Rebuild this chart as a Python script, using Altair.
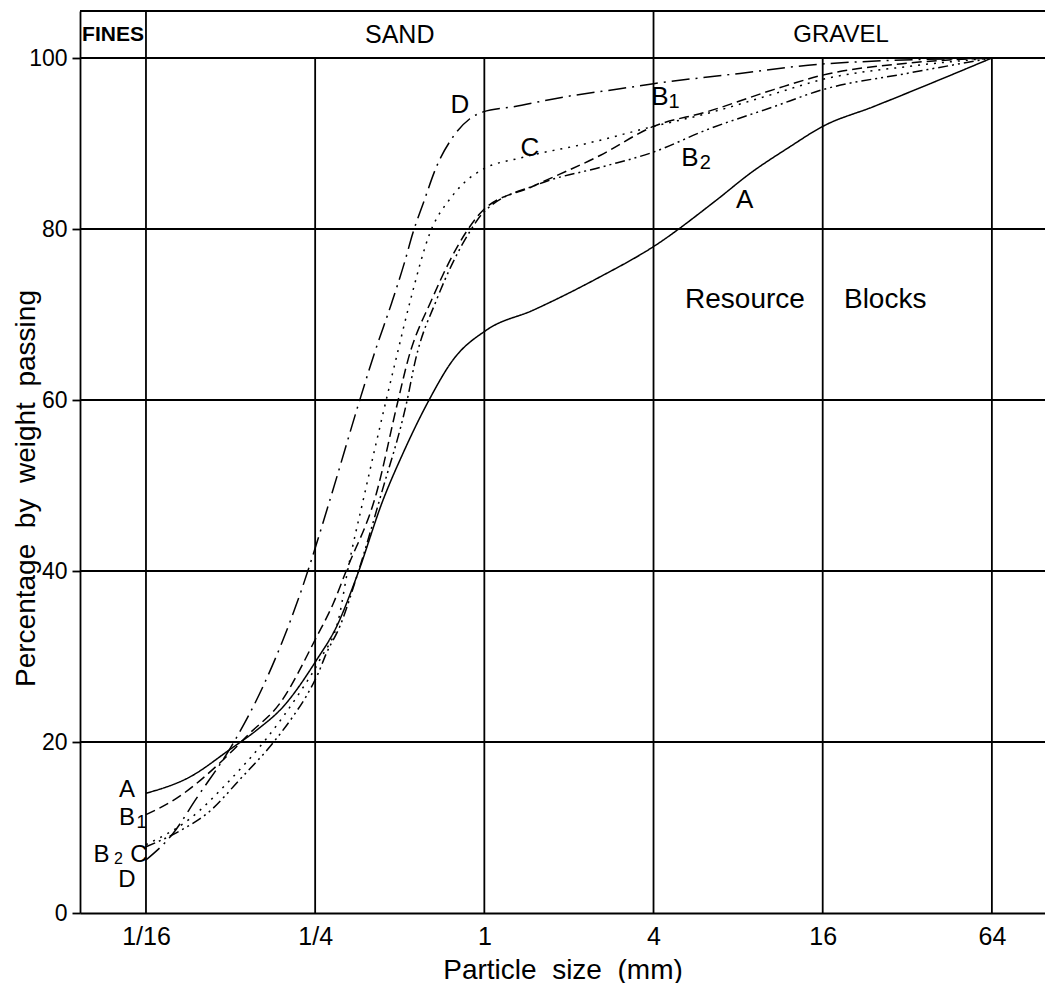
import altair as alt
import pandas as pd

# ---------------- data ----------------
# particle size (mm) and percentage by weight passing
A_size = [0.0625, 0.0894, 0.124, 0.155, 0.192, 0.253, 0.298, 0.351, 0.436, 0.514, 0.631, 0.774,
          1.02, 1.49, 2.58, 3.98, 6.71, 8.82, 12.2, 16.0, 24.2, 38.6, 64]
A_pass = [14.0, 15.9, 19.1, 21.4, 24.1, 29.6, 33.5, 39.3, 48.3, 53.8, 59.8, 64.7,
          68.2, 70.5, 74.4, 77.9, 83.4, 86.5, 89.6, 92.0, 94.3, 97.0, 100]

B1_size = [0.0625, 0.0802, 0.1175, 0.146, 0.187, 0.253, 0.290, 0.323, 0.413, 0.492, 0.535, 0.649,
           0.864, 0.990, 1.49, 2.58, 4.0, 6.18, 10.7, 16.0, 31.9, 64]
B1_pass = [11.5, 13.4, 17.9, 21.0, 24.5, 32.3, 36.2, 40.1, 49.1, 59.8, 64.7, 71.7,
           79.7, 82.2, 85.0, 88.6, 92.0, 93.7, 96.3, 98.0, 99.4, 100]

B2_size = [0.0625, 0.0824, 0.1054, 0.1347, 0.177, 0.2086, 0.2328, 0.256, 0.2743, 0.3059, 0.352,
           0.4305, 0.5298, 0.5689, 0.6758, 0.8879, 0.990, 1.576, 2.648, 4.0, 6.18, 10.7, 16.0,
           31.9, 64]
B2_pass = [7.75, 9.6, 11.9, 15.6, 19.9, 23.0, 25.4, 28.0, 30.4, 33.5, 39.4,
           49.1, 59.8, 64.7, 71.7, 79.7, 81.9, 85.3, 87.3, 89.0, 91.6, 94.3, 96.3,
           98.2, 100]

C_size = [0.0625, 0.0894, 0.124, 0.1668, 0.2204, 0.2596, 0.3059, 0.3239, 0.3754, 0.446, 0.4841,
          0.546, 0.6397, 0.758, 0.8404, 0.990, 1.338, 2.311, 4.0, 6.18, 10.7, 16.0, 31.9, 64]
C_pass = [8.0, 11.0, 15.5, 20.3, 25.8, 29.6, 35.0, 39.5, 49.1, 59.8, 64.7,
          71.7, 79.5, 83.6, 85.3, 87.0, 88.3, 90.0, 92.0, 93.5, 95.8, 97.5, 99.0, 100]

D_size = [0.0625, 0.078, 0.0945, 0.1275, 0.1631, 0.1897, 0.2204, 0.2425, 0.2857, 0.3603, 0.4075,
          0.4673, 0.5211, 0.5564, 0.609, 0.6758, 0.7744, 0.8879, 0.990, 1.266, 1.962, 3.037, 4.0,
          8.12, 16.0, 64]
D_pass = [6.2, 9.3, 13.4, 19.8, 26.5, 31.5, 37.2, 41.3, 48.9, 60.0, 65.6,
          71.3, 76.2, 79.5, 83.2, 87.3, 90.8, 92.9, 93.7, 94.3, 95.5, 96.4, 97.0,
          98.2, 99.3, 100]

curve_names = ["A", "B1", "B2", "C", "D"]
curve_dash = [[1, 0], [10, 5], [10, 4, 2, 4, 2, 4], [2, 6], [18, 6, 2, 6]]

x_ticks = [0.0625, 0.25, 1, 4, 16, 64]
x_tick_labels = ["1/16", "1/4", "1", "4", "16", "64"]
y_ticks = [0, 20, 40, 60, 80, 100]
h_grid = [20, 40, 60, 80, 100]
header_dividers = [0.0625, 4]

X_MIN, X_MAX = 0.0364, 98.9
Y_MAX = 105.5

header_text = ["FINES", "SAND", "GRAVEL"]
header_x = [0.0477, 0.5, 18.6]
header_y = [102.75, 102.75, 102.75]
header_size = [21, 25, 24]
header_weight = ["bold", "normal", "normal"]

# curve labels
lab_text = ["D", "C", "B", "1", "B", "2", "A",
            "A", "B", "1", "B", "2", "C", "D",
            "Resource", "Blocks"]
lab_x = [0.818, 1.452, 4.215, 4.73, 5.394, 6.12, 8.45,
         0.0535, 0.0535, 0.0603, 0.0434, 0.0499, 0.0590, 0.0535,
         8.46, 26.7]
lab_y = [94.5, 89.5, 95.4, 94.8, 88.3, 87.7, 83.4,
         14.4, 11.1, 10.5, 6.8, 6.3, 6.8, 3.9,
         71.7, 71.7]
lab_size = [26, 26, 26, 20, 26, 20, 26,
            24, 24, 18, 24, 16, 24, 24,
            28, 28]

y_title = "Percentage\u00a0\u00a0by\u00a0\u00a0weight\u00a0\u00a0passing"
x_title = "Particle\u00a0\u00a0size\u00a0\u00a0(mm)"

# ---------------- tables ----------------
rows = []
for name, xs, ys in zip(curve_names, [A_size, B1_size, B2_size, C_size, D_size],
                        [A_pass, B1_pass, B2_pass, C_pass, D_pass]):
    for i, (xv, yv) in enumerate(zip(xs, ys)):
        rows.append({"curve": name, "size": xv, "pass": yv, "order": i})
curves = pd.DataFrame(rows)

vlines = pd.DataFrame({"x": x_ticks, "y0": [0] * len(x_ticks), "y1": [100] * len(x_ticks)})
dividers = pd.DataFrame({"x": header_dividers, "y0": [100] * 2, "y1": [Y_MAX] * 2})
hlines = pd.DataFrame({"y": h_grid + [Y_MAX]})
headers = pd.DataFrame({"t": header_text, "x": header_x, "y": header_y, "s": header_size,
                        "w": header_weight})
labels = pd.DataFrame({"t": lab_text, "x": lab_x, "y": lab_y, "s": lab_size})

FONT = "Liberation Sans"
LW = 1.8

x_scale = alt.Scale(type="log", domain=[X_MIN, X_MAX], nice=False)
y_scale = alt.Scale(domain=[0, Y_MAX], nice=False, zero=False)

label_expr = " : ".join(
    f"datum.value == {v} ? '{t}'" for v, t in zip(x_ticks, x_tick_labels)
) + " : ''"

x_axis = alt.Axis(values=x_ticks, labelExpr=label_expr, grid=False, ticks=False,
                  domain=True, domainColor="black", domainWidth=LW,
                  labelFont=FONT, labelFontSize=25, labelColor="black", labelPadding=11,
                  title=x_title, titleFont=FONT, titleFontSize=28,
                  titleFontWeight="normal", titleColor="black",
                  titleBaseline="middle", titleY=57)
y_axis = alt.Axis(values=y_ticks, grid=False, ticks=True, tickSize=8, tickColor="black",
                  tickWidth=LW, domain=True, domainColor="black", domainWidth=LW,
                  labelFont=FONT, labelFontSize=23, labelColor="black", labelPadding=5,
                  title=y_title, titleFont=FONT, titleFontSize=28,
                  titleFontWeight="normal", titleColor="black",
                  titleBaseline="middle", titleX=-54, titleY=477)

lines = alt.Chart(curves).mark_line(color="black", strokeWidth=1.5, interpolate="monotone").encode(
    x=alt.X("size:Q", scale=x_scale, axis=x_axis),
    y=alt.Y("pass:Q", scale=y_scale, axis=y_axis),
    detail="curve:N",
    order="order:Q",
    strokeDash=alt.StrokeDash("curve:N", scale=alt.Scale(domain=curve_names, range=curve_dash),
                              legend=None),
)

hrule = alt.Chart(hlines).mark_rule(color="black", strokeWidth=LW).encode(
    y=alt.Y("y:Q", scale=y_scale))
vrule = alt.Chart(vlines).mark_rule(color="black", strokeWidth=LW).encode(
    x=alt.X("x:Q", scale=x_scale), y=alt.Y("y0:Q", scale=y_scale), y2="y1:Q")
drule = alt.Chart(dividers).mark_rule(color="black", strokeWidth=LW).encode(
    x=alt.X("x:Q", scale=x_scale), y=alt.Y("y0:Q", scale=y_scale), y2="y1:Q")

head_base = alt.Chart(headers).encode(
    x=alt.X("x:Q", scale=x_scale), y=alt.Y("y:Q", scale=y_scale),
    text="t:N", size=alt.Size("s:Q", scale=None, legend=None))
head_bold = head_base.mark_text(font=FONT, color="black", align="center", baseline="middle",
                                fontWeight="bold").transform_filter("datum.w == 'bold'")
head_norm = head_base.mark_text(font=FONT, color="black", align="center", baseline="middle",
                                fontWeight="normal").transform_filter("datum.w == 'normal'")

labs = alt.Chart(labels).mark_text(font=FONT, color="black", align="center",
                                   baseline="middle").encode(
    x=alt.X("x:Q", scale=x_scale), y=alt.Y("y:Q", scale=y_scale),
    text="t:N", size=alt.Size("s:Q", scale=None, legend=None))

chart = alt.layer(hrule, vrule, drule, lines, head_bold, head_norm, labs).properties(
    width=965, height=902,
    autosize=alt.AutoSizeParams(type="none"),
    padding={"left": 72, "top": 3, "right": 0, "bottom": 70},
    background="white",
).configure_view(stroke=None)

chart.save("out.html", embed_options={"renderer": "svg", "actions": False})
